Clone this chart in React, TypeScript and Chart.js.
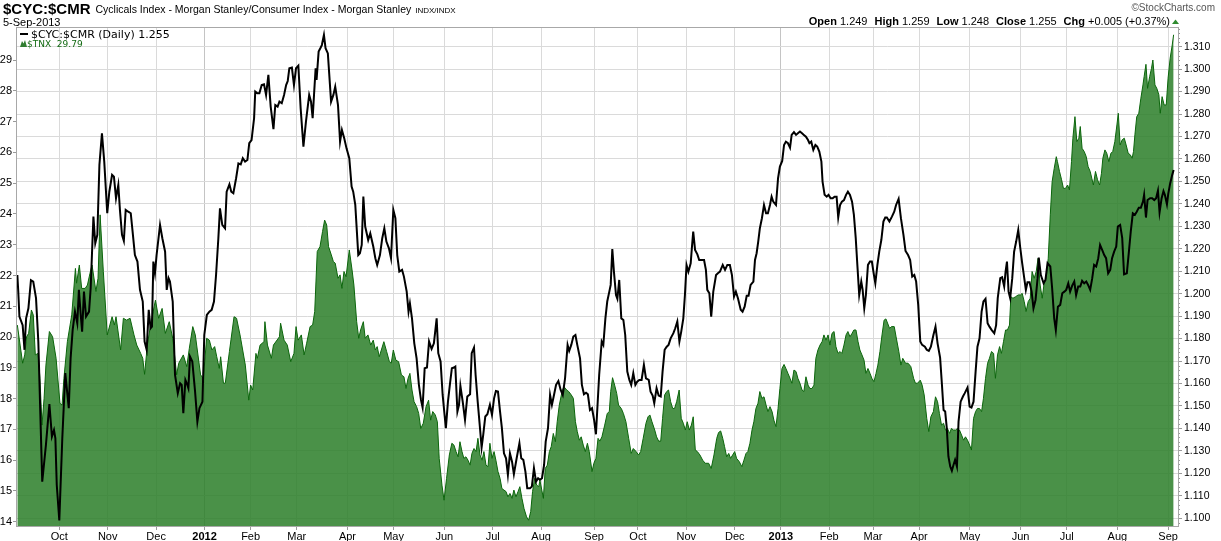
import { useEffect, useRef } from 'react';
import { Chart, registerables } from 'chart.js';

Chart.register(...registerables);

// x = trading-day index counted from 6-Sep-2011
const monthLabels = ['Oct', 'Nov', 'Dec', '2012', 'Feb', 'Mar', 'Apr', 'May', 'Jun', 'Jul', 'Aug', 'Sep', 'Oct', 'Nov', 'Dec', '2013', 'Feb', 'Mar', 'Apr', 'May', 'Jun', 'Jul', 'Aug', 'Sep'];
const monthStartDay = [19, 40, 61, 82, 102, 122, 144, 164, 186, 207, 228, 251, 270, 291, 312, 332, 353, 372, 392, 414, 436, 456, 478, 500];

const tnxTicks = [14, 15, 16, 17, 18, 19, 20, 21, 22, 23, 24, 25, 26, 27, 28, 29];
const ratioTicks = [1.10, 1.11, 1.12, 1.13, 1.14, 1.15, 1.16, 1.17, 1.18, 1.19, 1.20, 1.21, 1.22, 1.23, 1.24, 1.25, 1.26, 1.27, 1.28, 1.29, 1.30, 1.31];

const ratioDay = [
  0.8, 1.2, 1.7, 3.1, 3.9, 4.6, 5.6, 6.7, 7.7, 8.9, 9.9, 11.6, 13.2, 14.7, 15.8, 16.7, 17.3, 17.9, 19.0, 20.3,
  21.6, 23.1, 23.9, 24.8, 25.8, 26.8, 27.5, 28.3, 28.9, 29.7, 30.6, 31.9, 32.6, 33.8, 34.6, 35.5, 36.4, 37.5, 38.5, 39.8,
  40.7, 41.9, 42.7, 43.6, 44.6, 45.3, 46.2, 47.0, 47.8, 48.9, 50.0, 50.8, 51.8, 52.9, 54.0, 55.2, 56.0, 56.9, 57.8, 58.6,
  59.2, 59.8, 60.5, 61.2, 62.7, 63.7, 64.9, 65.6, 66.4, 67.0, 68.2, 69.2, 70.4, 71.4, 72.1, 72.8, 73.7, 74.3, 75.0, 75.7,
  76.7, 77.9, 78.9, 79.8, 81.1, 81.9, 83.0, 84.1, 85.1, 86.1, 87.0, 88.0, 88.7, 89.7, 90.9, 91.6, 92.8, 93.6, 94.5, 95.7,
  96.7, 97.7, 98.6, 99.6, 100.6, 101.4, 102.4, 103.5, 104.0, 104.9, 105.8, 106.8, 107.8, 108.7, 109.7, 110.7, 111.9, 112.7, 113.7, 114.5,
  115.5, 116.5, 117.4, 118.1, 118.8, 119.9, 120.8, 121.7, 122.7, 123.7, 124.9, 126.0, 127.4, 128.2, 128.9, 129.5, 130.2, 130.6, 131.5, 132.4,
  132.9, 133.8, 134.5, 135.5, 136.9, 137.9, 138.7, 139.9, 140.8, 141.6, 142.6, 143.6, 144.8, 145.8, 146.5, 147.4, 148.7, 149.4, 150.2, 150.9,
  151.7, 153.0, 153.9, 155.2, 156.1, 156.9, 158.1, 159.1, 160.0, 160.9, 162.0, 162.9, 163.9, 164.8, 165.6, 166.5, 167.7, 168.5, 169.7, 170.5,
  171.1, 172.0, 173.0, 174.0, 175.0, 175.9, 176.6, 177.5, 178.5, 179.4, 180.5, 181.5, 182.7, 183.4, 184.4, 185.3, 186.2, 186.7, 187.6, 188.5,
  189.3, 190.2, 190.8, 191.7, 192.4, 193.0, 194.0, 195.0, 196.0, 197.2, 197.9, 198.9, 199.6, 200.5, 201.5, 202.2, 202.9, 203.8, 204.7, 205.8,
  206.7, 207.6, 208.4, 209.3, 210.2, 211.0, 211.9, 212.8, 213.6, 214.5, 215.4, 216.2, 217.4, 218.6, 219.4, 220.3, 221.2, 222.0, 223.2, 224.0,
  224.9, 225.8, 226.7, 227.5, 228.4, 229.3, 230.0, 231.0, 231.9, 232.7, 233.6, 234.5, 235.5, 236.5, 237.4, 238.4, 239.5, 240.2, 241.1, 242.0,
  242.9, 243.7, 244.9, 245.7, 246.6, 247.5, 248.3, 249.2, 250.1, 251.0, 251.8, 253.2, 254.3, 255.0, 255.9, 256.7, 257.6, 258.2, 258.9, 259.6,
  260.5, 261.1, 261.9, 262.8, 263.7, 264.5, 265.4, 266.3, 267.1, 268.0, 268.9, 269.7, 270.6, 271.6, 272.6, 273.5, 274.7, 275.5, 276.4, 277.1,
  278.1, 279.0, 279.9, 280.7, 281.6, 282.5, 283.3, 284.2, 285.4, 286.2, 287.1, 288.0, 288.8, 289.7, 290.4, 291.1, 291.9, 292.9, 293.4, 294.0,
  294.8, 295.8, 296.6, 297.8, 298.7, 299.5, 300.1, 301.0, 301.8, 302.7, 303.9, 304.7, 305.6, 306.8, 307.8, 308.8, 309.9, 310.8, 311.7, 312.5,
  313.4, 314.6, 315.4, 316.3, 317.2, 318.0, 318.9, 320.1, 320.8, 321.5, 322.2, 322.9, 323.8, 324.7, 325.6, 326.4, 327.3, 328.0, 328.7, 329.9,
  330.8, 331.6, 332.6, 333.4, 334.2, 335.1, 336.0, 336.7, 337.7, 338.6, 339.4, 340.3, 341.2, 342.0, 342.9, 343.8, 344.4, 345.2, 346.1, 347.0,
  347.8, 348.7, 349.6, 350.1, 351.0, 351.9, 352.7, 353.6, 354.5, 355.3, 356.2, 356.9, 357.7, 358.5, 359.4, 360.3, 361.1, 362.0, 362.9, 363.7,
  364.5, 365.2, 366.0, 366.9, 367.5, 368.2, 368.9, 369.8, 370.7, 371.5, 372.4, 373.0, 373.9, 374.7, 375.6, 376.5, 377.3, 378.0, 379.1, 380.2,
  381.2, 382.0, 383.1, 384.1, 385.2, 386.1, 387.2, 388.1, 389.0, 389.9, 390.7, 391.6, 392.5, 393.3, 394.5, 395.3, 396.2, 397.1, 398.2, 399.1,
  400.0, 401.1, 401.9, 402.6, 403.3, 404.0, 404.7, 405.5, 406.2, 406.9, 407.6, 408.4, 409.1, 410.0, 411.0, 411.8, 413.0, 413.9, 414.7, 415.6,
  416.5, 417.3, 418.2, 419.1, 419.9, 420.8, 421.7, 422.5, 423.5, 424.6, 425.4, 426.1, 427.2, 428.0, 428.9, 429.5, 430.1, 430.8, 431.5, 432.4,
  433.2, 434.1, 435.0, 435.8, 436.7, 437.6, 438.3, 439.0, 439.9, 440.8, 441.6, 442.5, 443.4, 443.9, 444.8, 446.0, 446.8, 447.7, 448.9, 449.7,
  450.6, 451.3, 452.2, 453.2, 454.1, 455.0, 455.8, 456.7, 457.5, 458.4, 459.3, 460.1, 461.0, 461.9, 462.7, 463.6, 464.5, 465.3, 466.2, 467.1,
  467.9, 468.8, 469.7, 470.5, 471.4, 472.3, 473.1, 474.0, 474.9, 475.7, 476.6, 477.5, 478.2, 479.2, 480.1, 480.9, 482.1, 483.0, 483.8, 484.7,
  485.6, 486.4, 487.3, 488.2, 489.1, 489.6, 490.4, 491.1, 492.2, 493.1, 494.0, 494.8, 495.6, 496.3, 497.2, 498.0, 498.6, 499.5, 500.1, 500.9,
  501.8, 502.4,
];
const ratioValue = [
  1.2083, 1.2009, 1.1898, 1.186, 1.175, 1.189, 1.1935, 1.206, 1.2054, 1.198, 1.1787, 1.1163, 1.1327, 1.1508, 1.1364, 1.1393, 1.1356, 1.1148, 1.099, 1.1356,
  1.1646, 1.149, 1.1712, 1.1839, 1.192, 1.1868, 1.2017, 1.1905, 1.1831, 1.2009, 1.1898, 1.192, 1.2024, 1.2343, 1.2224, 1.2262, 1.2573, 1.2714, 1.2588, 1.2358,
  1.2454, 1.2529, 1.2521, 1.2425, 1.2484, 1.2373, 1.2262, 1.2235, 1.2373, 1.2365, 1.2358, 1.2276, 1.2172, 1.2143, 1.2017, 1.1965, 1.1787, 1.175, 1.1928, 1.1846,
  1.1853, 1.2143, 1.2091, 1.2172, 1.2306, 1.2247, 1.2187, 1.2017, 1.2069, 1.2054, 1.1965, 1.1638, 1.1557, 1.1601, 1.1594, 1.1468, 1.1616, 1.1601, 1.1579, 1.172,
  1.1698, 1.1564, 1.143, 1.149, 1.1519, 1.1816, 1.1905, 1.192, 1.1928, 1.1965, 1.2083, 1.2247, 1.238, 1.2306, 1.2291, 1.2454, 1.2487, 1.2454, 1.2447, 1.2514,
  1.258, 1.2576, 1.2603, 1.2588, 1.2595, 1.267, 1.2684, 1.2781, 1.29, 1.2892, 1.2892, 1.2929, 1.2932, 1.2885, 1.2974, 1.2833, 1.2733, 1.284, 1.2833, 1.2855,
  1.2848, 1.2885, 1.2929, 1.2947, 1.3004, 1.3007, 1.2929, 1.3004, 1.3015, 1.2825, 1.2655, 1.2766, 1.2885, 1.2855, 1.2781, 1.2885, 1.3004, 1.2952, 1.3078, 1.3096,
  1.3107, 1.3152, 1.3093, 1.307, 1.2855, 1.2885, 1.2922, 1.284, 1.2677, 1.2729, 1.2692, 1.2647, 1.2603, 1.2477, 1.2454, 1.2395, 1.2172, 1.218, 1.2217, 1.2432,
  1.2299, 1.2239, 1.2269, 1.221, 1.2158, 1.2128, 1.2172, 1.2247, 1.2291, 1.2232, 1.2202, 1.2158, 1.2373, 1.2336, 1.2172, 1.2098, 1.2106, 1.2076, 1.2009, 1.192,
  1.1957, 1.189, 1.1779, 1.1712, 1.1594, 1.1527, 1.1493, 1.1668, 1.1671, 1.1787, 1.1754, 1.1779, 1.189, 1.1735, 1.1698, 1.1549, 1.1453, 1.1401, 1.1519, 1.1601,
  1.1668, 1.1671, 1.1675, 1.1475, 1.1505, 1.1589, 1.1519, 1.1438, 1.1542, 1.1552, 1.1735, 1.176, 1.1638, 1.1519, 1.1401, 1.1315, 1.1371, 1.1453, 1.1463, 1.1505,
  1.146, 1.1534, 1.1567, 1.1564, 1.1475, 1.1401, 1.1289, 1.1267, 1.1193, 1.1289, 1.1252, 1.1196, 1.1267, 1.1334, 1.1267, 1.126, 1.1208, 1.1134, 1.1134, 1.1141,
  1.1223, 1.1163, 1.1178, 1.1171, 1.1178, 1.1237, 1.1341, 1.1401, 1.1549, 1.1505, 1.1549, 1.1594, 1.1611, 1.1571, 1.1549, 1.1623, 1.1772, 1.1745, 1.1772, 1.1809,
  1.1816, 1.1772, 1.1712, 1.1594, 1.1552, 1.1559, 1.1552, 1.1482, 1.149, 1.1438, 1.1374, 1.1638, 1.1787, 1.1772, 1.189, 1.1965, 1.2009, 1.2039, 1.2199, 1.2098,
  1.1994, 1.1977, 1.2061, 1.189, 1.1883, 1.1816, 1.1653, 1.1616, 1.1594, 1.1646, 1.1594, 1.1608, 1.1616, 1.1616, 1.1683, 1.1623, 1.1616, 1.1564, 1.1546, 1.1512,
  1.1579, 1.1546, 1.1542, 1.1653, 1.175, 1.1764, 1.1772, 1.1801, 1.1824, 1.1846, 1.1876, 1.1787, 1.1831, 1.189, 1.1994, 1.2128, 1.2098, 1.2135, 1.2202, 1.2276,
  1.2195, 1.2175, 1.215, 1.215, 1.215, 1.2106, 1.2017, 1.2002, 1.1898, 1.2009, 1.2083, 1.2091, 1.2098, 1.2128, 1.2106, 1.2128, 1.2128, 1.2083, 1.1987, 1.2009,
  1.198, 1.1928, 1.192, 1.1942, 1.1991, 1.1991, 1.2039, 1.2054, 1.215, 1.218, 1.2232, 1.2291, 1.2336, 1.2395, 1.2358, 1.2358, 1.2395, 1.2432, 1.241, 1.2395,
  1.2514, 1.2566, 1.2591, 1.2662, 1.2677, 1.267, 1.265, 1.2707, 1.2719, 1.2707, 1.2714, 1.2722, 1.2714, 1.2707, 1.2699, 1.2684, 1.267, 1.2677, 1.264, 1.2662,
  1.2655, 1.2633, 1.2588, 1.2499, 1.244, 1.2432, 1.244, 1.2425, 1.2425, 1.2432, 1.2432, 1.2339, 1.2395, 1.241, 1.2417, 1.244, 1.2454, 1.244, 1.241, 1.2351,
  1.2247, 1.2128, 1.1994, 1.2054, 1.2017, 1.1935, 1.1994, 1.2128, 1.2143, 1.2143, 1.2083, 1.2046, 1.2128, 1.2187, 1.2239, 1.2321, 1.2339, 1.2339, 1.2321, 1.2343,
  1.2365, 1.2395, 1.2422, 1.2336, 1.2262, 1.219, 1.2172, 1.215, 1.2076, 1.2083, 1.2054, 1.195, 1.1787, 1.1772, 1.1764, 1.175, 1.1745, 1.1764, 1.1816, 1.1853,
  1.1779, 1.1715, 1.1594, 1.1482, 1.1475, 1.1401, 1.1275, 1.123, 1.1211, 1.1237, 1.126, 1.123, 1.143, 1.1519, 1.1542, 1.1557, 1.1582, 1.1497, 1.1493, 1.1519,
  1.1653, 1.1764, 1.1801, 1.192, 1.1965, 1.1977, 1.1868, 1.1853, 1.1838, 1.1824, 1.186, 1.198, 1.2069, 1.2073, 1.2032, 1.2098, 1.2143, 1.2009, 1.198, 1.2069,
  1.2187, 1.2232, 1.2284, 1.221, 1.2136, 1.2069, 1.2017, 1.2051, 1.2051, 1.2009, 1.1935, 1.1972, 1.2069, 1.2161, 1.2083, 1.2046, 1.2061, 1.2136, 1.2121, 1.2024,
  1.189, 1.1838, 1.1942, 1.195, 1.2002, 1.2009, 1.2017, 1.2046, 1.2009, 1.2036, 1.2054, 1.1994, 1.2032, 1.2032, 1.2057, 1.2046, 1.2054, 1.2039, 1.2017, 1.2069,
  1.2128, 1.2121, 1.2158, 1.2217, 1.2195, 1.2172, 1.2158, 1.2091, 1.2106, 1.2158, 1.2187, 1.221, 1.2299, 1.2306, 1.2247, 1.2086, 1.2091, 1.2187, 1.2276, 1.2358,
  1.2351, 1.2365, 1.2383, 1.2383, 1.241, 1.244, 1.2339, 1.2417, 1.2425, 1.2425, 1.2417, 1.2425, 1.2459, 1.2362, 1.2425, 1.2457, 1.244, 1.2398, 1.2447, 1.2491,
  1.2529, 1.2551,
];

const tnxDay = [
  0.8, 2.0, 3.1, 4.0, 4.8, 5.7, 6.9, 7.7, 8.6, 9.8, 10.6, 11.5, 12.4, 13.2, 14.7, 16.1, 17.6, 19.3, 20.2, 21.0,
  22.5, 24.4, 26.0, 26.5, 27.7, 28.7, 30.2, 31.2, 32.3, 33.2, 34.9, 35.8, 36.7, 38.1, 39.8, 41.9, 42.9, 43.6, 45.6, 46.8,
  48.2, 49.7, 51.4, 52.6, 54.3, 55.2, 56.0, 57.2, 58.6, 60.7, 62.1, 63.6, 65.0, 66.7, 68.2, 69.3, 69.9, 70.8, 72.8, 74.3,
  75.4, 76.9, 78.0, 80.3, 81.5, 82.9, 84.1, 85.2, 86.4, 87.3, 88.4, 89.0, 90.2, 91.0, 92.8, 94.8, 95.9, 97.4, 99.7, 101.2,
  102.0, 102.9, 104.3, 104.9, 106.1, 107.8, 108.2, 109.3, 111.0, 111.9, 114.5, 115.0, 116.5, 117.9, 119.4, 120.8, 121.7, 122.6, 124.0, 125.2,
  126.3, 127.8, 128.9, 129.8, 130.9, 132.1, 133.2, 134.1, 135.0, 135.8, 137.0, 137.9, 138.7, 139.9, 140.8, 141.6, 142.5, 143.4, 144.8, 146.0,
  146.8, 148.0, 148.9, 149.7, 150.9, 151.7, 152.9, 154.1, 155.2, 156.1, 156.9, 157.8, 158.7, 159.8, 161.0, 162.2, 163.0, 163.9, 165.0, 166.2,
  167.4, 168.5, 169.4, 170.3, 171.1, 172.0, 172.9, 174.0, 174.9, 175.8, 176.9, 178.1, 179.2, 180.1, 181.0, 182.1, 183.0, 183.8, 185.0, 185.9,
  187.0, 188.2, 189.3, 190.2, 191.1, 192.0, 192.8, 193.7, 194.5, 195.4, 196.3, 197.2, 198.0, 198.9, 199.8, 200.6, 201.5, 202.4, 203.2, 204.1,
  205.0, 205.8, 206.7, 207.6, 208.4, 209.3, 210.2, 211.0, 211.9, 212.8, 213.6, 214.5, 215.4, 216.2, 217.1, 218.0, 218.8, 219.7, 220.6, 221.7,
  222.6, 223.5, 224.3, 225.2, 226.1, 227.0, 227.5, 229.0, 229.8, 230.7, 231.6, 232.4, 233.3, 234.2, 235.0, 235.9, 237.1, 237.9, 239.1, 240.0,
  241.1, 242.0, 242.9, 243.7, 244.6, 245.4, 246.3, 247.2, 248.1, 248.9, 250.1, 250.9, 251.8, 252.7, 253.5, 254.4, 255.6, 256.7, 257.6, 258.2,
  259.0, 259.9, 260.8, 261.6, 262.8, 263.7, 264.8, 266.0, 267.1, 268.0, 269.2, 270.3, 271.2, 272.3, 273.5, 274.4, 275.2, 276.1, 277.3, 278.1,
  279.0, 279.9, 280.7, 281.6, 282.5, 283.3, 284.2, 285.1, 285.9, 286.8, 287.9, 288.8, 289.7, 290.6, 291.4, 292.3, 293.2, 294.0, 294.9, 295.8,
  296.9, 298.1, 299.2, 300.7, 301.8, 303.0, 304.2, 305.0, 305.9, 306.8, 307.6, 308.5, 309.4, 310.2, 311.1, 312.0, 312.8, 314.0, 315.1, 316.0,
  316.9, 317.7, 318.6, 319.5, 320.3, 321.2, 322.1, 322.9, 323.8, 324.7, 325.6, 326.4, 327.3, 328.2, 329.0, 329.9, 330.8, 331.6, 332.5, 333.4,
  334.2, 335.1, 336.0, 336.8, 337.7, 338.6, 339.4, 340.3, 341.2, 342.0, 342.9, 343.8, 344.6, 345.5, 346.4, 347.2, 348.1, 349.0, 349.9, 350.7,
  351.6, 352.5, 353.3, 354.2, 355.1, 355.9, 356.8, 357.7, 358.5, 359.4, 360.3, 361.1, 362.0, 362.9, 363.7, 364.6, 365.5, 366.3, 367.2, 368.1,
  368.9, 369.8, 370.7, 371.5, 372.4, 373.3, 374.1, 375.0, 375.9, 376.8, 377.6, 379.2, 380.0, 381.2, 382.0, 383.2, 384.1, 384.9, 386.1, 387.2,
  388.4, 389.6, 390.4, 391.3, 392.5, 393.3, 394.2, 395.3, 396.2, 397.1, 398.2, 399.1, 400.0, 400.8, 401.7, 402.6, 403.4, 404.3, 405.2, 406.0,
  406.9, 407.8, 408.6, 409.5, 410.4, 411.3, 412.1, 413.0, 413.9, 414.7, 415.6, 416.5, 417.3, 418.2, 419.1, 419.9, 420.8, 421.7, 422.5, 423.4,
  424.3, 425.1, 426.0, 426.9, 427.7, 428.6, 429.5, 430.3, 431.2, 431.8, 432.7, 433.8, 435.0, 436.0, 436.7, 437.6, 438.4, 439.3, 440.2, 441.0,
  441.9, 442.8, 443.6, 444.5, 445.4, 446.3, 447.1, 448.0, 448.9, 449.7, 450.6, 451.5, 452.0, 452.9, 453.8, 454.6, 455.5, 456.4, 457.2, 458.1,
  458.7, 459.6, 460.4, 461.3, 461.9, 462.7, 463.6, 464.5, 465.3, 466.2, 466.9, 467.6, 468.5, 469.4, 470.3, 471.1, 471.7, 472.6, 473.4, 474.3,
  475.2, 476.0, 476.9, 477.8, 478.4, 479.2, 480.1, 481.0, 481.8, 482.7, 483.6, 484.4, 485.0, 485.6, 486.4, 487.3, 488.2, 489.1, 489.6, 490.4,
  491.1, 492.0, 492.8, 493.4, 494.3, 495.1, 496.0, 496.6, 497.4, 498.3, 499.2, 500.0, 500.9, 501.8, 502.4,
];
const tnxValue = [
  20.39, 19.74, 19.15, 19.42, 20.01, 20.12, 20.88, 20.72, 19.42, 19.47, 18.66, 17.14, 18.01, 19.09, 20.18, 20.01, 19.31, 17.85, 17.79, 18.66,
  19.85, 20.72, 22.23, 21.75, 22.34, 21.58, 21.58, 21.69, 22.07, 22.34, 21.48, 21.91, 23.97, 22.13, 20.07, 20.66, 20.39, 20.66, 19.58, 20.61,
  20.55, 20.61, 20.07, 19.74, 19.47, 19.31, 18.79, 19.74, 20.39, 21.20, 20.61, 20.93, 20.12, 20.50, 19.96, 19.20, 18.77, 19.15, 19.42, 19.04,
  19.63, 20.34, 20.07, 18.77, 18.66, 19.96, 19.90, 19.58, 19.69, 19.36, 18.98, 19.36, 18.50, 18.50, 19.53, 20.66, 20.61, 20.07, 19.09, 17.95,
  18.44, 18.28, 19.47, 19.31, 19.74, 19.85, 20.50, 19.74, 19.31, 19.74, 20.01, 20.45, 19.90, 19.74, 19.20, 19.47, 20.34, 19.90, 20.07, 19.42,
  19.80, 20.34, 20.39, 20.83, 22.78, 22.94, 23.43, 23.80, 23.64, 22.94, 22.67, 22.45, 22.40, 21.91, 22.02, 21.58, 22.13, 21.96, 22.83, 22.18,
  21.69, 20.50, 19.96, 20.23, 20.50, 19.96, 20.07, 19.74, 19.90, 19.58, 19.69, 19.36, 19.58, 19.85, 19.53, 19.20, 19.15, 19.58, 19.25, 19.20,
  18.77, 18.71, 18.33, 18.66, 18.82, 18.28, 17.90, 17.74, 17.52, 17.03, 17.20, 17.74, 17.95, 17.30, 17.58, 17.47, 17.25, 16.06, 15.19, 14.70,
  15.41, 16.17, 16.55, 16.49, 16.28, 16.11, 16.60, 16.28, 16.06, 16.11, 16.00, 15.84, 16.22, 16.38, 16.28, 16.71, 16.17, 16.00, 16.28, 15.84,
  15.79, 16.55, 16.06, 16.28, 16.00, 15.63, 15.41, 15.08, 15.03, 14.98, 14.81, 14.92, 14.76, 15.03, 14.81, 14.98, 15.14, 14.76, 14.43, 14.16,
  14.05, 14.33, 14.98, 15.41, 15.19, 15.14, 15.35, 14.76, 15.73, 15.84, 16.28, 16.44, 16.87, 16.60, 17.25, 17.79, 18.23, 18.39, 18.28, 18.23,
  18.12, 18.01, 17.25, 16.93, 16.65, 16.76, 16.49, 16.28, 16.55, 16.28, 15.63, 15.90, 16.06, 16.71, 16.62, 16.76, 17.14, 17.52, 17.58, 18.23,
  18.68, 18.44, 18.17, 17.79, 17.68, 17.52, 17.25, 16.71, 16.22, 16.38, 16.28, 16.17, 16.28, 16.71, 17.20, 17.41, 17.47, 17.25, 16.98, 16.76,
  16.62, 16.62, 17.36, 18.12, 18.23, 18.28, 17.90, 17.68, 17.68, 17.90, 18.28, 17.36, 17.20, 16.98, 17.25, 16.98, 17.14, 17.41, 16.33, 16.28,
  16.17, 16.00, 15.90, 15.90, 15.73, 16.17, 16.71, 16.90, 16.95, 16.71, 16.44, 16.11, 16.22, 16.06, 16.17, 16.28, 16.06, 15.95, 15.79, 16.00,
  16.22, 16.28, 16.55, 16.98, 17.25, 17.68, 17.85, 18.23, 18.01, 18.06, 17.79, 17.58, 17.74, 17.58, 17.30, 17.09, 17.68, 18.33, 18.98, 19.11,
  18.98, 18.82, 18.66, 18.50, 18.93, 18.88, 18.66, 18.50, 18.28, 18.23, 18.71, 18.44, 18.33, 18.33, 18.44, 19.31, 19.58, 19.74, 19.85, 20.07,
  19.90, 20.07, 19.74, 20.12, 20.18, 19.69, 19.47, 19.53, 19.47, 19.74, 20.07, 20.18, 20.01, 20.12, 20.23, 20.23, 19.85, 19.58, 19.42, 19.25,
  18.82, 18.98, 18.82, 18.66, 18.55, 18.82, 19.09, 19.53, 20.07, 20.55, 20.59, 20.28, 20.34, 20.34, 20.01, 19.53, 19.09, 19.31, 19.15, 19.15,
  19.04, 18.66, 18.50, 18.50, 18.60, 18.44, 18.12, 17.36, 16.93, 17.41, 17.58, 18.06, 17.90, 17.52, 17.14, 17.20, 16.98, 17.03, 16.87, 17.03,
  16.98, 16.98, 17.03, 16.98, 16.82, 16.65, 16.76, 16.65, 16.49, 16.33, 17.36, 17.58, 17.68, 17.68, 17.58, 18.01, 18.66, 19.15, 19.31, 19.53,
  19.47, 18.66, 19.42, 19.69, 19.47, 19.85, 20.23, 20.23, 20.39, 21.31, 21.26, 21.31, 21.37, 21.37, 21.42, 21.15, 20.83, 21.15, 21.26, 22.13,
  21.91, 22.13, 22.56, 21.69, 21.26, 21.80, 21.91, 22.56, 23.97, 25.05, 25.48, 25.86, 25.70, 25.38, 25.11, 24.83, 24.83, 24.94, 24.78, 25.70,
  26.46, 27.16, 26.35, 26.46, 26.84, 26.13, 26.03, 25.86, 25.54, 25.38, 25.16, 24.94, 25.38, 25.11, 24.94, 25.32, 25.81, 26.08, 25.97, 25.70,
  25.97, 26.03, 26.35, 26.89, 27.27, 26.24, 26.41, 26.46, 26.24, 25.97, 25.92, 25.81, 26.03, 26.57, 27.16, 27.27, 27.76, 28.19, 28.46, 28.86,
  28.08, 28.46, 28.73, 29.00, 28.19, 28.08, 27.87, 27.27, 27.81, 27.54, 27.54, 28.41, 29.06, 29.49, 29.82,
];

const SANS = '"Liberation Sans", Arial, sans-serif';
const VERD = '"DejaVu Sans", Verdana, sans-serif';

const decorPlugin = {
  id: 'decor',
  afterDraw(chart: any) {
    const ctx = chart.ctx as CanvasRenderingContext2D;
    const a = chart.chartArea;
    const y1 = chart.scales.y1;
    ctx.save();

    // minor ticks on the right axis
    ctx.strokeStyle = '#9a9a9a';
    ctx.lineWidth = 1;
    for (let k = 548; k <= 659; k++) {
      if (k % 5 === 0) continue;
      const py = Math.round(y1.getPixelForValue(k / 500)) + 0.5;
      if (py < a.top || py > a.bottom) continue;
      ctx.beginPath();
      ctx.moveTo(a.right, py);
      ctx.lineTo(a.right + 2, py);
      ctx.stroke();
    }

    // frame
    ctx.strokeStyle = '#a8a8a8';
    ctx.strokeRect(Math.round(a.left) - 0.5, Math.round(a.top) - 0.5, Math.round(a.right - a.left) + 1, Math.round(a.bottom - a.top));

    // legend inside the plot
    ctx.fillStyle = '#000';
    ctx.fillRect(20, 33, 8, 2);
    ctx.font = `11px ${VERD}`;
    ctx.textBaseline = 'alphabetic';
    ctx.textAlign = 'left';
    ctx.fillText('$CYC:$CMR (Daily) 1.255', 31, 38);
    ctx.fillStyle = '#2f7d2f';
    ctx.beginPath();
    ctx.moveTo(20, 47);
    ctx.lineTo(22, 41);
    ctx.lineTo(23.5, 43.5);
    ctx.lineTo(25, 40);
    ctx.lineTo(27, 47);
    ctx.closePath();
    ctx.fill();
    ctx.fillStyle = '#136b13';
    ctx.font = `9px ${VERD}`;
    ctx.fillText('$TNX  29.79', 27, 47);

    // header left
    ctx.fillStyle = '#000';
    ctx.font = `bold 15px ${SANS}`;
    ctx.fillText('$CYC:$CMR', 3, 14);
    const w0 = ctx.measureText('$CYC:$CMR').width;
    ctx.font = `10.5px ${SANS}`;
    const sub = 'Cyclicals Index - Morgan Stanley/Consumer Index - Morgan Stanley';
    ctx.fillText(sub, 3 + w0 + 5, 13);
    const w1 = ctx.measureText(sub).width;
    ctx.font = `8px ${SANS}`;
    ctx.fillText('INDX/INDX', 3 + w0 + 5 + w1 + 4, 13);
    ctx.font = `11px ${SANS}`;
    ctx.fillText('5-Sep-2013', 3, 26);

    // header right
    ctx.fillStyle = '#555';
    ctx.font = `10px ${SANS}`;
    ctx.textAlign = 'right';
    ctx.fillText('\u00A9StockCharts.com', 1215, 11);
    ctx.textAlign = 'left';

    const parts: [string, boolean][] = [
      ['Open', true], [' 1.249', false],
      ['High', true], [' 1.259', false],
      ['Low', true], [' 1.248', false],
      ['Close', true], [' 1.255', false],
      ['Chg', true], [' +0.005 (+0.37%)', false],
    ];
    const gap = 7;
    let total = 0;
    parts.forEach(([t, b], i) => {
      ctx.font = `${b ? 'bold ' : ''}11px ${SANS}`;
      total += ctx.measureText(t).width + (i % 2 === 1 && i < parts.length - 1 ? gap : 0);
    });
    let x = 1170 - total;
    ctx.fillStyle = '#000';
    parts.forEach(([t, b], i) => {
      ctx.font = `${b ? 'bold ' : ''}11px ${SANS}`;
      ctx.fillText(t, x, 25);
      x += ctx.measureText(t).width + (i % 2 === 1 && i < parts.length - 1 ? gap : 0);
    });
    ctx.fillStyle = '#2e8b2e';
    ctx.beginPath();
    ctx.moveTo(1172, 24);
    ctx.lineTo(1179, 24);
    ctx.lineTo(1175.5, 19.5);
    ctx.closePath();
    ctx.fill();

    ctx.restore();
  },
};

export default function App() {
  const ref = useRef<HTMLCanvasElement | null>(null);

  useEffect(() => {
    if (!ref.current) return;
    const ratioPts = ratioDay.map((d, i) => ({ x: d, y: ratioValue[i] }));
    const tnxPts = tnxDay.map((d, i) => ({ x: d, y: tnxValue[i] }));

    const chart = new Chart(ref.current, {
      type: 'line',
      data: {
        datasets: [
          {
            label: '$CYC:$CMR',
            data: ratioPts,
            yAxisID: 'y1',
            borderColor: '#000',
            borderWidth: 2,
            pointRadius: 0,
            fill: false,
            tension: 0,
            order: 0,
          },
          {
            label: '$TNX',
            data: tnxPts,
            yAxisID: 'y',
            borderColor: '#0b650b',
            borderWidth: 1,
            backgroundColor: 'rgba(42,126,40,0.85)',
            pointRadius: 0,
            fill: 'start',
            tension: 0,
            order: 1,
          },
        ],
      } as any,
      options: {
        animation: false,
        responsive: true,
        maintainAspectRatio: false,
        layout: { padding: { top: 28, left: 0, right: 0, bottom: 0 } },
        plugins: { legend: { display: false }, tooltip: { enabled: false } },
        scales: {
          x: {
            type: 'linear',
            min: 0.65,
            max: 504.3,
            afterBuildTicks: (s: any) => { s.ticks = monthStartDay.map((v) => ({ value: v })); },
            afterFit: (s: any) => { s.height = 14; },
            border: { display: false },
            grid: {
              color: (c: any) => (c.tick && (c.tick.value === 82 || c.tick.value === 332) ? '#c4c4c4' : '#dadada'),
              tickColor: '#9a9a9a',
              tickLength: 3,
            },
            ticks: {
              autoSkip: false,
              maxRotation: 0,
              padding: 0,
              color: '#000',
              callback: (_v: any, i: number) => monthLabels[i],
              font: (c: any) => ({
                family: SANS,
                size: 11,
                weight: c.tick && /^\d{4}$/.test(String(c.tick.label)) ? 'bold' : 'normal',
              }),
            },
          },
          y: {
            type: 'linear',
            position: 'left',
            min: 13.83,
            max: 30.04,
            afterBuildTicks: (s: any) => { s.ticks = tnxTicks.map((v) => ({ value: v })); },
            afterFit: (s: any) => { s.width = 17; },
            border: { display: false },
            grid: { drawOnChartArea: false, tickColor: '#9a9a9a', tickLength: 4 },
            ticks: { padding: 1, color: '#000', font: { family: SANS, size: 11 }, callback: (v: any) => String(v) },
          },
          y1: {
            type: 'linear',
            position: 'right',
            min: 1.0961,
            max: 1.3183,
            afterBuildTicks: (s: any) => { s.ticks = ratioTicks.map((v) => ({ value: v })); },
            afterFit: (s: any) => { s.width = 43; },
            border: { display: false },
            grid: { color: '#dadada', tickColor: '#9a9a9a', tickLength: 4 },
            ticks: { padding: 2, color: '#000', font: { family: SANS, size: 10.5 }, callback: (v: any) => Number(v).toFixed(3) },
          },
        },
      } as any,
      plugins: [decorPlugin],
    });
    return () => chart.destroy();
  }, []);

  return (
    <div style={{ position: 'fixed', left: 0, top: 0, width: 1221, height: 541, background: '#fff' }}>
      <canvas ref={ref} />
    </div>
  );
}
